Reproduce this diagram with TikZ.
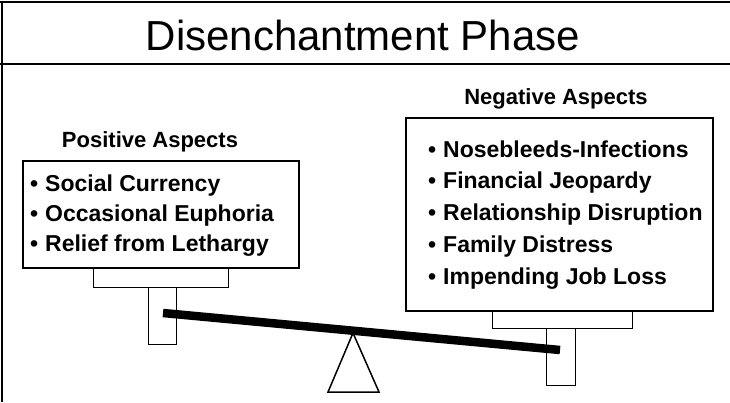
\documentclass[tikz,border=0pt]{standalone}
\usepackage{fontspec}
\setmainfont{Liberation Sans}
\begin{document}
\begin{tikzpicture}[x=1pt,y=-1pt,
  frameline/.style={line width=1.6pt},
  listbox/.style={draw, line width=1.5pt, fill=white, inner sep=0pt, anchor=north west},
  part/.style={draw, line width=1.3pt, fill=white, inner sep=0pt, anchor=north west},
  heading/.style={font=\fontsize{22}{26}\selectfont\bfseries, anchor=base, inner sep=0pt},
  item/.style={font=\fontsize{23}{27}\selectfont\bfseries, anchor=base west, inner sep=0pt},
  bullet/.style={font=\fontsize{23}{27}\selectfont\bfseries, anchor=base west, inner sep=0pt}]
\useasboundingbox (0,0) rectangle (730,402);
\fill[white] (0,0) rectangle (730,402);

% outer frame and title band
\draw[frameline] (0,2) -- (730,2);
\draw[frameline] (2,2) -- (2,402);
\draw[frameline] (0,64) -- (730,64);
\node[anchor=base, inner sep=0pt, font=\fontsize{42}{50}\selectfont] (title) at (363,50) {Disenchantment Phase};

% fulcrum
\coordinate (apex) at (353,333);
\coordinate (baseL) at (328,392);
\coordinate (baseR) at (379,392);
\draw[line width=1.5pt, line join=miter] (apex) -- (baseR) -- (baseL) -- cycle;

% posts and pans of the scale
\node[part, minimum width=28pt, minimum height=57pt] (lpost) at (148,287) {};
\node[part, minimum width=29pt, minimum height=57pt] (rpost) at (546,328) {};
\node[part, minimum width=135pt, minimum height=20pt] (lpan) at (93,267) {};
\node[part, minimum width=140pt, minimum height=19pt] (rpan) at (492,309) {};

% positive side
\node[heading] (poshead) at (150,147) {Positive Aspects};
\node[listbox, minimum width=276pt, minimum height=107pt] (posbox) at (22,160) {};
\node[bullet] (pb1) at (30,191) {\textbullet};
\node[item] (p1) at (45,191) {Social Currency};
\node[bullet] (pb2) at (30,221) {\textbullet};
\node[item] (p2) at (45,221) {Occasional Euphoria};
\node[bullet] (pb3) at (30,251) {\textbullet};
\node[item] (p3) at (45,251) {Relief from Lethargy};

% negative side
\node[heading] (neghead) at (556,104) {Negative Aspects};
\node[listbox, minimum width=307pt, minimum height=193pt] (negbox) at (405,117) {};
\node[bullet] (nb1) at (428,157) {\textbullet};
\node[item] (n1) at (443,157) {Nosebleeds-Infections};
\node[bullet] (nb2) at (428,188) {\textbullet};
\node[item] (n2) at (443,188) {Financial Jeopardy};
\node[bullet] (nb3) at (428,220) {\textbullet};
\node[item] (n3) at (443,220) {Relationship Disruption};
\node[bullet] (nb4) at (428,252) {\textbullet};
\node[item] (n4) at (443,252) {Family Distress};
\node[bullet] (nb5) at (428,284) {\textbullet};
\node[item] (n5) at (443,284) {Impending Job Loss};

% tilted beam resting on the fulcrum
\coordinate (beamL) at (163,313);
\coordinate (beamR) at (560,350);
\draw[line width=8.5pt, line cap=butt] (beamL) -- (beamR);
\end{tikzpicture}
\end{document}
